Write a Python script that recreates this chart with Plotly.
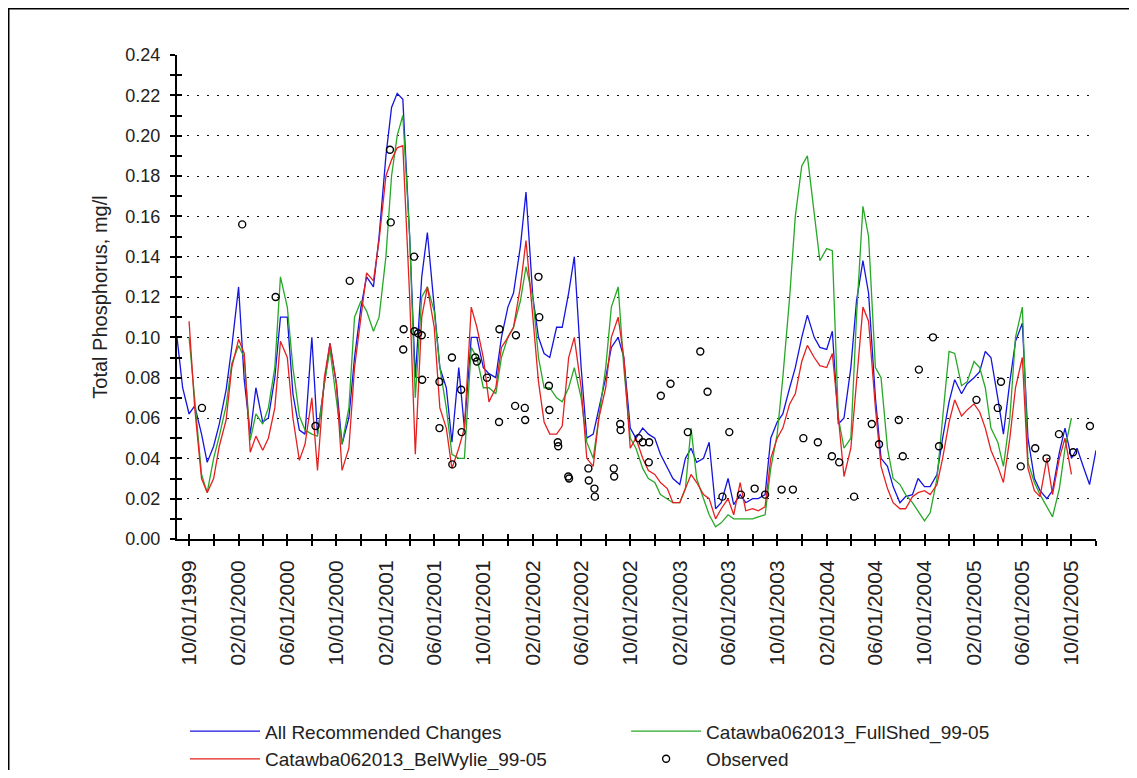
import pandas as pd
import plotly.graph_objects as go

# Semi-monthly sampling dates (1st and 15th of each month)
dates = [d.strftime("%Y-%m-%d") for d in pd.date_range("1999-09-01", "2005-12-01", freq="SMS")]

all_recommended = [
    0.100, 0.075, 0.062, 0.066, 0.052, 0.038, 0.046, 0.057, 0.074, 0.095, 0.125, 0.079,
    0.052, 0.075, 0.058, 0.060, 0.080, 0.110, 0.110, 0.072, 0.054, 0.052, 0.100, 0.052,
    0.077, 0.097, 0.077, 0.047, 0.060, 0.090, 0.115, 0.130, 0.125, 0.150, 0.190, 0.214,
    0.221, 0.218, 0.150, 0.080, 0.130, 0.152, 0.115, 0.085, 0.075, 0.048, 0.085, 0.055,
    0.100, 0.100, 0.085, 0.082, 0.080, 0.100, 0.115, 0.122, 0.145, 0.172, 0.120, 0.100,
    0.092, 0.090, 0.105, 0.105, 0.122, 0.140, 0.085, 0.050, 0.052, 0.065, 0.080, 0.095,
    0.100, 0.090, 0.055, 0.050, 0.055, 0.052, 0.050, 0.042, 0.035, 0.030, 0.027, 0.040,
    0.045, 0.038, 0.040, 0.048, 0.015, 0.018, 0.030, 0.017, 0.022, 0.018, 0.020, 0.020,
    0.022, 0.050, 0.058, 0.062, 0.075, 0.085, 0.100, 0.111, 0.100, 0.095, 0.094, 0.103,
    0.057, 0.060, 0.085, 0.118, 0.138, 0.122, 0.070, 0.040, 0.036, 0.026, 0.018, 0.021,
    0.022, 0.030, 0.026, 0.026, 0.032, 0.050, 0.068, 0.079, 0.072, 0.077, 0.080, 0.083,
    0.093, 0.090, 0.070, 0.052, 0.078, 0.098, 0.107, 0.050, 0.030, 0.024, 0.020, 0.024,
    0.043, 0.055, 0.040, 0.045, 0.035, 0.027, 0.044,
]

belwylie = [
    None, None, 0.108, 0.065, 0.030, 0.023, 0.030, 0.046, 0.059, 0.085, 0.099, 0.092,
    0.043, 0.051, 0.044, 0.050, 0.065, 0.098, 0.090, 0.060, 0.039, 0.047, 0.070, 0.034,
    0.080, 0.097, 0.077, 0.034, 0.045, 0.085, 0.110, 0.132, 0.128, 0.148, 0.180, 0.188,
    0.194, 0.195, 0.120, 0.042, 0.110, 0.125, 0.105, 0.065, 0.055, 0.035, 0.045, 0.055,
    0.115, 0.105, 0.090, 0.068, 0.075, 0.095, 0.100, 0.105, 0.125, 0.148, 0.110, 0.078,
    0.058, 0.052, 0.052, 0.056, 0.090, 0.100, 0.075, 0.040, 0.036, 0.060, 0.075, 0.100,
    0.110, 0.090, 0.045, 0.050, 0.040, 0.034, 0.032, 0.028, 0.025, 0.018, 0.018, 0.025,
    0.032, 0.028, 0.022, 0.020, 0.010, 0.015, 0.020, 0.012, 0.028, 0.014, 0.015, 0.014,
    0.016, 0.040, 0.050, 0.055, 0.067, 0.072, 0.088, 0.096, 0.090, 0.086, 0.085, 0.092,
    0.060, 0.031, 0.045, 0.077, 0.115, 0.108, 0.065, 0.036, 0.025, 0.018, 0.015, 0.015,
    0.021, 0.023, 0.024, 0.022, 0.027, 0.040, 0.058, 0.069, 0.061, 0.064, 0.067, 0.063,
    0.055, 0.044, 0.036, 0.028, 0.050, 0.075, 0.090, 0.035, 0.024, 0.021, 0.040, 0.022,
    0.040, 0.050, 0.032, None, None, None, None,
]

fullshed = [
    None, None, 0.100, 0.068, 0.032, 0.023, 0.040, 0.051, 0.066, 0.087, 0.096, 0.090,
    0.049, 0.062, 0.057, 0.065, 0.085, 0.130, 0.115, 0.085, 0.061, 0.054, 0.052, 0.051,
    0.077, 0.094, 0.069, 0.047, 0.065, 0.110, 0.118, 0.113, 0.103, 0.110, 0.140, 0.180,
    0.200, 0.210, 0.150, 0.070, 0.120, 0.125, 0.113, 0.085, 0.065, 0.042, 0.040, 0.040,
    0.095, 0.090, 0.075, 0.075, 0.072, 0.090, 0.100, 0.105, 0.118, 0.135, 0.120, 0.090,
    0.075, 0.075, 0.070, 0.068, 0.075, 0.085, 0.070, 0.048, 0.040, 0.060, 0.085, 0.115,
    0.125, 0.085, 0.050, 0.045, 0.035, 0.030, 0.028, 0.022, 0.020, 0.018, 0.018, 0.025,
    0.055, 0.030, 0.020, 0.012, 0.006, 0.008, 0.012, 0.010, 0.010, 0.010, 0.010, 0.011,
    0.012, 0.035, 0.052, 0.080, 0.120, 0.160, 0.185, 0.190, 0.160, 0.138, 0.144, 0.143,
    0.060, 0.045, 0.050, 0.110, 0.165, 0.150, 0.085, 0.080, 0.045, 0.030, 0.027, 0.022,
    0.018, 0.014, 0.009, 0.013, 0.030, 0.060, 0.093, 0.092, 0.076, 0.078, 0.088, 0.085,
    0.075, 0.055, 0.048, 0.036, 0.060, 0.100, 0.115, 0.038, 0.028, 0.022, 0.016, 0.011,
    0.025, 0.045, 0.060, None, None, None, None,
]

obs_dates = [
    "1999-11-02", "2000-02-10", "2000-05-03", "2000-08-10", "2000-11-03", "2001-02-11",
    "2001-02-13", "2001-03-17", "2001-03-16", "2001-04-12", "2001-04-13", "2001-04-22",
    "2001-05-01", "2001-05-02", "2001-06-14", "2001-06-14", "2001-07-15", "2001-07-16",
    "2001-08-07", "2001-08-08", "2001-09-11", "2001-09-15", "2001-10-10", "2001-11-09",
    "2001-11-10", "2001-12-19", "2001-12-21", "2002-01-12", "2002-01-13", "2002-02-15",
    "2002-02-17", "2002-03-13", "2002-03-14", "2002-04-04", "2002-04-05", "2002-04-30",
    "2002-05-02", "2002-06-19", "2002-06-20", "2002-07-04", "2002-07-05", "2002-08-21",
    "2002-08-22", "2002-09-06", "2002-09-07", "2002-10-22", "2002-11-01", "2002-11-17",
    "2002-11-16", "2002-12-16", "2003-01-09", "2003-02-21", "2003-03-24", "2003-04-11",
    "2003-05-18", "2003-06-04", "2003-07-03", "2003-08-06", "2003-09-01", "2003-10-12",
    "2003-11-09", "2003-12-05", "2004-01-10", "2004-02-14", "2004-03-03", "2004-04-09",
    "2004-05-23", "2004-06-10", "2004-07-29", "2004-08-08", "2004-09-17", "2004-10-22",
    "2004-11-06", "2005-02-07", "2005-04-01", "2005-04-09", "2005-05-28", "2005-07-03",
    "2005-07-31", "2005-08-31", "2005-10-05", "2005-11-16",
]
obs_values = [
    0.065, 0.156, 0.120, 0.056, 0.128, 0.193,
    0.157, 0.104, 0.094, 0.140, 0.103, 0.102,
    0.101, 0.079, 0.078, 0.055, 0.090, 0.037,
    0.074, 0.053, 0.090, 0.088, 0.080, 0.058,
    0.104, 0.066, 0.101, 0.065, 0.059, 0.130,
    0.110, 0.076, 0.064, 0.048, 0.046, 0.031,
    0.030, 0.035, 0.029, 0.025, 0.021, 0.035,
    0.031, 0.057, 0.054, 0.050, 0.048, 0.048,
    0.038, 0.071, 0.077, 0.053, 0.093, 0.073,
    0.021, 0.053, 0.022, 0.025, 0.022, 0.0245,
    0.0245, 0.050, 0.048, 0.041, 0.038, 0.021,
    0.057, 0.047, 0.059, 0.041, 0.084, 0.100,
    0.046, 0.069, 0.065, 0.078, 0.036, 0.045,
    0.040, 0.052, 0.043, 0.056,
]

y_ticks = [0.00, 0.02, 0.04, 0.06, 0.08, 0.10, 0.12, 0.14, 0.16, 0.18, 0.20, 0.22, 0.24]

BLUE = "#1515e0"
RED = "#e52020"
GREEN = "#27a827"
FONT = "Liberation Sans, Arial, sans-serif"
X_RANGE = ["1999-09-01", "2005-12-01"]
Y_RANGE = [0, 0.24]

fig = go.Figure()
fig.add_trace(go.Scatter(x=dates, y=all_recommended, mode="lines", name="All Recommended Changes",
                         line=dict(color=BLUE, width=1.3), legend="legend"))
fig.add_trace(go.Scatter(x=dates, y=fullshed, mode="lines", name="Catawba062013_FullShed_99-05",
                         line=dict(color=GREEN, width=1.3), legend="legend2"))
fig.add_trace(go.Scatter(x=dates, y=belwylie, mode="lines", name="Catawba062013_BelWylie_99-05",
                         line=dict(color=RED, width=1.3), legend="legend"))
fig.add_trace(go.Scatter(x=obs_dates, y=obs_values, mode="markers", name="Observed",
                         marker=dict(symbol="circle-open", size=7, color="black", line=dict(width=1.4)),
                         xaxis="x2", yaxis="y2", legend="legend2"))

tickfont = dict(family=FONT, size=18, color="#222")
xtickfont = dict(family=FONT, size=21, color="#222")
legfont = dict(family=FONT, size=19, color="#222")

fig.update_layout(
    width=1121, height=762,
    margin=dict(l=169, r=33, t=47, b=230.5, pad=0, autoexpand=False),
    paper_bgcolor="white", plot_bgcolor="white",
    font=dict(family=FONT, size=18, color="#222"),
    showlegend=True,
    xaxis=dict(
        type="date", range=X_RANGE, showgrid=False, zeroline=False, automargin=False,
        showline=True, linecolor="black", linewidth=2,
        ticks="outside", ticklen=5, tickwidth=1.5, tickcolor="black",
        tick0="1999-10-01", dtick="M4", tickformat="%m/%d/%Y", tickangle=-90,
        tickfont=xtickfont, ticklabelstandoff=6,
        minor=dict(ticks="outside", ticklen=5, tickwidth=1.5, tickcolor="black",
                   dtick="M2", tick0="1999-10-01", showgrid=False),
    ),
    yaxis=dict(
        range=Y_RANGE, tickvals=y_ticks, tickformat=".2f", zeroline=False, automargin=False,
        showline=True, linecolor="black", linewidth=2,
        ticks="outside", ticklen=5, tickwidth=1.5, tickcolor="black",
        tickfont=tickfont, ticklabelstandoff=6,
        showgrid=True, gridcolor="#111", gridwidth=1.3, griddash="2px,8px",
        minor=dict(ticks="outside", ticklen=5, tickwidth=1.5, tickcolor="black",
                   dtick=0.01, showgrid=False),
        title=dict(text="Total Phosphorus, mg/l", font=dict(family=FONT, size=20, color="#222"),
                   standoff=12),
    ),
    xaxis2=dict(
        type="date", range=X_RANGE, overlaying="x", anchor="y2", side="bottom",
        showgrid=False, zeroline=False, showline=False, showticklabels=False,
        ticks="inside", ticklen=5, tickwidth=1.5, tickcolor="black",
        tick0="1999-10-01", dtick="M4",
        minor=dict(ticks="inside", ticklen=5, tickwidth=1.5, tickcolor="black",
                   dtick="M2", tick0="1999-10-01", showgrid=False),
    ),
    yaxis2=dict(
        range=Y_RANGE, overlaying="y", anchor="x2", side="left", tickvals=y_ticks,
        showgrid=False, zeroline=False, showline=False, showticklabels=False,
        ticks="inside", ticklen=5, tickwidth=1.5, tickcolor="black",
        minor=dict(ticks="inside", ticklen=5, tickwidth=1.5, tickcolor="black",
                   dtick=0.01, showgrid=False),
    ),
    legend=dict(
        orientation="v", x=0.0087, xanchor="left", y=-0.358, yanchor="top",
        font=legfont, itemwidth=70,
        bgcolor="rgba(0,0,0,0)", tracegroupgap=0,
    ),
    legend2=dict(
        orientation="v", x=0.4887, xanchor="left", y=-0.358, yanchor="top",
        font=legfont, itemwidth=70,
        bgcolor="rgba(0,0,0,0)", tracegroupgap=0,
    ),
    shapes=[dict(type="rect", xref="paper", yref="paper",
                 x0=-0.1839, x1=1.1, y0=-0.55, y1=1.097,
                 line=dict(color="black", width=3), fillcolor="rgba(0,0,0,0)", layer="below")],
)

fig.write_html("out.html")
